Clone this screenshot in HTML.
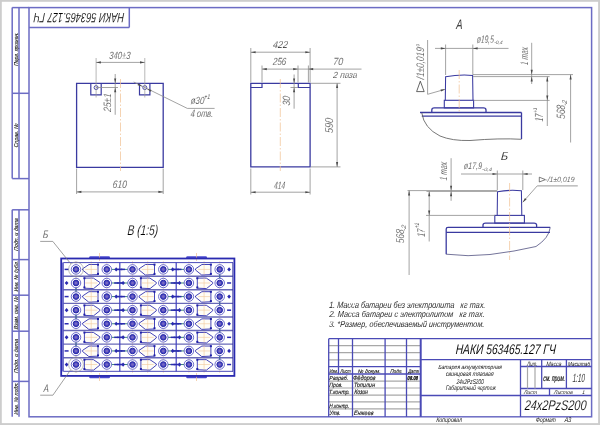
<!DOCTYPE html>
<html><head><meta charset="utf-8"><style>
html,body{margin:0;padding:0;background:#fff;overflow:hidden;}
svg{display:block;}
text{font-family:"Liberation Sans",sans-serif;white-space:pre;}
</style></head><body>
<svg width="600" height="425" viewBox="0 0 600 425">
<rect x="0" y="0" width="600" height="425" fill="#cdcdcd"/>
<rect x="1.8" y="1.8" width="596.3" height="421.3" fill="#ffffff"/>
<rect x="29" y="7.6" width="562.6" height="409.2" stroke="#6c6cc4" stroke-width="1.5" fill="none" />
<line x1="29" y1="27.5" x2="129.3" y2="27.5" stroke="#6c6cc4" stroke-width="1.5" />
<line x1="129.3" y1="7.6" x2="129.3" y2="27.5" stroke="#6c6cc4" stroke-width="1.5" />
<line x1="12.2" y1="7.6" x2="29" y2="7.6" stroke="#6c6cc4" stroke-width="1.5" />
<line x1="12.2" y1="178.6" x2="29" y2="178.6" stroke="#6c6cc4" stroke-width="1.5" />
<line x1="12.2" y1="7.6" x2="12.2" y2="178.6" stroke="#6c6cc4" stroke-width="1.5" />
<line x1="19.0" y1="7.6" x2="19.0" y2="178.6" stroke="#6c6cc4" stroke-width="1.5" />
<line x1="12.2" y1="93.3" x2="29" y2="93.3" stroke="#6c6cc4" stroke-width="1.5" />
<line x1="12.2" y1="209.8" x2="12.2" y2="416.8" stroke="#6c6cc4" stroke-width="1.5" />
<line x1="19.0" y1="209.8" x2="19.0" y2="416.8" stroke="#6c6cc4" stroke-width="1.5" />
<line x1="12.2" y1="209.8" x2="29" y2="209.8" stroke="#6c6cc4" stroke-width="1.5" />
<line x1="12.2" y1="259.6" x2="29" y2="259.6" stroke="#6c6cc4" stroke-width="1.5" />
<line x1="12.2" y1="295.2" x2="29" y2="295.2" stroke="#6c6cc4" stroke-width="1.5" />
<line x1="12.2" y1="331.2" x2="29" y2="331.2" stroke="#6c6cc4" stroke-width="1.5" />
<line x1="12.2" y1="381.4" x2="29" y2="381.4" stroke="#6c6cc4" stroke-width="1.5" />
<path d="M76.6,167.3 L76.6,83.3 L163.2,83.3 L163.2,167.3 Z" stroke="#3a3aa0" stroke-width="1.3" fill="none" />
<path d="M90.8,83.3 L90.8,94.8 L101.2,94.8 L101.2,83.3" stroke="#3a3aa0" stroke-width="1.2" fill="none" />
<circle cx="96.1" cy="87.6" r="2.0" stroke="#3a3aa0" stroke-width="0.9" fill="none"/>
<path d="M139.5,83.3 L139.5,94.8 L149.9,94.8 L149.9,83.3" stroke="#3a3aa0" stroke-width="1.2" fill="none" />
<circle cx="144.8" cy="87.6" r="2.0" stroke="#3a3aa0" stroke-width="0.9" fill="none"/>
<line x1="120.5" y1="79" x2="120.5" y2="171" stroke="#f0c090" stroke-width="0.7" stroke-dasharray="9 2 1.5 2"/>
<line x1="96.1" y1="58" x2="96.1" y2="97.5" stroke="#9a9a9a" stroke-width="0.7" />
<line x1="144.8" y1="58" x2="144.8" y2="97.5" stroke="#9a9a9a" stroke-width="0.7" />
<line x1="96.1" y1="62.4" x2="144.8" y2="62.4" stroke="#8c8c8c" stroke-width="0.8" />
<path d="M96.10,62.40 L100.90,61.35 L100.90,63.45 Z" fill="#4a4a4a"/>
<path d="M144.80,62.40 L140.00,63.45 L140.00,61.35 Z" fill="#4a4a4a"/>
<line x1="96" y1="87.5" x2="118" y2="87.5" stroke="#8c8c8c" stroke-width="0.8" />
<line x1="115.2" y1="74" x2="115.2" y2="114.8" stroke="#8c8c8c" stroke-width="0.8" />
<path d="M115.20,83.30 L114.15,78.50 L116.25,78.50 Z" fill="#4a4a4a"/>
<path d="M115.20,87.50 L116.25,92.30 L114.15,92.30 Z" fill="#4a4a4a"/>
<line x1="133.7" y1="82" x2="187.3" y2="108.4" stroke="#8c8c8c" stroke-width="0.8" />
<path d="M142.40,86.50 L137.63,85.32 L138.56,83.44 Z" fill="#4a4a4a"/>
<path d="M146.80,88.70 L151.57,89.88 L150.64,91.76 Z" fill="#4a4a4a"/>
<line x1="187.3" y1="108.4" x2="214.6" y2="108.4" stroke="#8c8c8c" stroke-width="0.8" />
<line x1="76.6" y1="168.5" x2="76.6" y2="194" stroke="#8c8c8c" stroke-width="0.8" />
<line x1="163.2" y1="168.5" x2="163.2" y2="194" stroke="#8c8c8c" stroke-width="0.8" />
<line x1="76.6" y1="191.9" x2="163.2" y2="191.9" stroke="#8c8c8c" stroke-width="0.8" />
<path d="M76.60,191.90 L81.40,190.85 L81.40,192.95 Z" fill="#4a4a4a"/>
<path d="M163.20,191.90 L158.40,192.95 L158.40,190.85 Z" fill="#4a4a4a"/>
<path d="M250.8,166.9 L250.8,83.3 L310.1,83.3 L310.1,166.9 Z" stroke="#3a3aa0" stroke-width="1.3" fill="none" />
<path d="M250.8,87.5 L262,87.5 L262,83.3" stroke="#3a3aa0" stroke-width="1.2" fill="none" />
<path d="M298.3,83.3 L298.3,87.5 L310.1,87.5" stroke="#3a3aa0" stroke-width="1.2" fill="none" />
<line x1="280.3" y1="79" x2="280.3" y2="171" stroke="#f0c090" stroke-width="0.7" stroke-dasharray="9 2 1.5 2"/>
<line x1="250.8" y1="48" x2="250.8" y2="82.5" stroke="#8c8c8c" stroke-width="0.8" />
<line x1="310.1" y1="48" x2="310.1" y2="82.5" stroke="#8c8c8c" stroke-width="0.8" />
<line x1="250.8" y1="52.2" x2="310.1" y2="52.2" stroke="#8c8c8c" stroke-width="0.8" />
<path d="M250.80,52.20 L255.60,51.15 L255.60,53.25 Z" fill="#4a4a4a"/>
<path d="M310.10,52.20 L305.30,53.25 L305.30,51.15 Z" fill="#4a4a4a"/>
<line x1="262" y1="65.5" x2="262" y2="82.5" stroke="#8c8c8c" stroke-width="0.8" />
<line x1="298.0" y1="65.5" x2="298.0" y2="82.5" stroke="#8c8c8c" stroke-width="0.8" />
<line x1="262" y1="69.1" x2="298" y2="69.1" stroke="#8c8c8c" stroke-width="0.8" />
<path d="M262.00,69.10 L266.80,68.05 L266.80,70.15 Z" fill="#4a4a4a"/>
<path d="M298.00,69.10 L293.20,70.15 L293.20,68.05 Z" fill="#4a4a4a"/>
<line x1="308.4" y1="65.5" x2="308.4" y2="82.5" stroke="#8c8c8c" stroke-width="0.8" />
<line x1="298" y1="69.1" x2="361.5" y2="69.1" stroke="#8c8c8c" stroke-width="0.8" />
<path d="M308.40,69.10 L313.20,68.05 L313.20,70.15 Z" fill="#4a4a4a"/>
<line x1="290.5" y1="87.5" x2="298" y2="87.5" stroke="#8c8c8c" stroke-width="0.8" />
<line x1="294.1" y1="74.5" x2="294.1" y2="108.7" stroke="#8c8c8c" stroke-width="0.8" />
<path d="M294.10,83.30 L293.05,78.50 L295.15,78.50 Z" fill="#4a4a4a"/>
<path d="M294.10,87.50 L295.15,92.30 L293.05,92.30 Z" fill="#4a4a4a"/>
<line x1="311" y1="83.3" x2="340.5" y2="83.3" stroke="#8c8c8c" stroke-width="0.8" />
<line x1="311" y1="166.9" x2="340.5" y2="166.9" stroke="#8c8c8c" stroke-width="0.8" />
<line x1="337.1" y1="83.3" x2="337.1" y2="166.9" stroke="#8c8c8c" stroke-width="0.8" />
<path d="M337.10,83.30 L338.15,88.10 L336.05,88.10 Z" fill="#4a4a4a"/>
<path d="M337.10,166.90 L336.05,162.10 L338.15,162.10 Z" fill="#4a4a4a"/>
<line x1="250.8" y1="168.5" x2="250.8" y2="194.5" stroke="#8c8c8c" stroke-width="0.8" />
<line x1="310.1" y1="168.5" x2="310.1" y2="194.5" stroke="#8c8c8c" stroke-width="0.8" />
<line x1="250.8" y1="192.2" x2="310.1" y2="192.2" stroke="#8c8c8c" stroke-width="0.8" />
<path d="M250.80,192.20 L255.60,191.15 L255.60,193.25 Z" fill="#4a4a4a"/>
<path d="M310.10,192.20 L305.30,193.25 L305.30,191.15 Z" fill="#4a4a4a"/>
<path d="M445.3,100.3 L445.6,76.8 Q459,74.3 472.6,75.4 L473,100.3" stroke="#3a3aa0" stroke-width="1.05" fill="none" />
<rect x="444.3" y="100.3" width="29.3" height="7.6" stroke="#3a3aa0" stroke-width="1.1" fill="none" />
<path d="M431.8,112.4 L431.8,110 Q431.8,107.9 434.3,107.9 L483.5,107.9 Q486,107.9 486,110 L486,112.4" stroke="#3a3aa0" stroke-width="1.3" fill="none" />
<line x1="420" y1="112.5" x2="521.5" y2="112.5" stroke="#3a3aa0" stroke-width="1.3" />
<line x1="421.8" y1="116.2" x2="521.5" y2="116.2" stroke="#3a3aa0" stroke-width="1.3" />
<line x1="521.5" y1="112.5" x2="521.5" y2="139" stroke="#3a3aa0" stroke-width="1.3" />
<path d="M421.8,113 Q424,128 440,136 Q452,141 470,140.5 Q500,138 521.5,139.3" stroke="#555" stroke-width="0.8" fill="none" />
<line x1="459.2" y1="70" x2="459.2" y2="112" stroke="#f0c090" stroke-width="0.7" stroke-dasharray="9 2 1.5 2"/>
<line x1="445.6" y1="44.5" x2="445.6" y2="75" stroke="#8c8c8c" stroke-width="0.8" />
<line x1="472.8" y1="44.5" x2="472.8" y2="75" stroke="#8c8c8c" stroke-width="0.8" />
<line x1="435" y1="48.4" x2="508.5" y2="48.4" stroke="#8c8c8c" stroke-width="0.8" />
<path d="M445.60,48.40 L440.80,49.45 L440.80,47.35 Z" fill="#4a4a4a"/>
<path d="M472.80,48.40 L477.60,47.35 L477.60,49.45 Z" fill="#4a4a4a"/>
<line x1="427.6" y1="40" x2="427.6" y2="94.3" stroke="#8c8c8c" stroke-width="0.8" />
<line x1="427.6" y1="94.3" x2="444.8" y2="89.4" stroke="#8c8c8c" stroke-width="0.8" />
<path d="M445.40,89.20 L441.06,91.51 L440.49,89.48 Z" fill="#4a4a4a"/>
<path d="M420.3,81.2 L424.2,91.6 L416.6,91.6 Z" fill="none" stroke="#333" stroke-width="0.75"/>
<line x1="473" y1="74.6" x2="573" y2="74.6" stroke="#8c8c8c" stroke-width="0.8" />
<line x1="473" y1="76.6" x2="549.6" y2="76.6" stroke="#8c8c8c" stroke-width="0.8" />
<line x1="473.6" y1="100.4" x2="549.6" y2="100.4" stroke="#8c8c8c" stroke-width="0.8" />
<line x1="531.7" y1="42.8" x2="531.7" y2="84" stroke="#8c8c8c" stroke-width="0.8" />
<path d="M531.70,74.60 L530.65,69.80 L532.75,69.80 Z" fill="#4a4a4a"/>
<path d="M531.70,76.60 L532.75,81.40 L530.65,81.40 Z" fill="#4a4a4a"/>
<line x1="547.3" y1="76.6" x2="547.3" y2="126" stroke="#8c8c8c" stroke-width="0.8" />
<path d="M547.30,76.60 L548.35,81.40 L546.25,81.40 Z" fill="#4a4a4a"/>
<path d="M547.30,100.40 L546.25,95.60 L548.35,95.60 Z" fill="#4a4a4a"/>
<line x1="570.6" y1="74.6" x2="570.6" y2="142.5" stroke="#8c8c8c" stroke-width="0.8" />
<path d="M570.60,74.60 L571.65,79.40 L569.55,79.40 Z" fill="#4a4a4a"/>
<path d="M497.2,215.4 L497.5,191.8 Q509,189.5 521.4,190.8 L521.8,215.4" stroke="#3a3aa0" stroke-width="1.05" fill="none" />
<rect x="494.8" y="215.4" width="29.6" height="7.7" stroke="#3a3aa0" stroke-width="1.1" fill="none" />
<path d="M483,227.3 L483,225 Q483,223.1 485.5,223.1 L534,223.1 Q536.6,223.1 536.6,225 L536.6,227.3" stroke="#3a3aa0" stroke-width="1.3" fill="none" />
<path d="M446.2,254.2 L446.2,229 Q446.2,227.3 448,227.3 L550.2,227.3" stroke="#3a3aa0" stroke-width="1.3" fill="none" />
<path d="M550.2,227.5 Q549,238 536,246.5 Q515,251.5 490,254.5 Q468,257 446.2,254.2" stroke="#505080" stroke-width="0.8" fill="none" />
<line x1="446.2" y1="232.4" x2="550" y2="232.4" stroke="#3a3aa0" stroke-width="1.3" />
<line x1="509.6" y1="183" x2="509.6" y2="260" stroke="#f0c090" stroke-width="0.7" stroke-dasharray="9 2 1.5 2"/>
<line x1="497.3" y1="170.5" x2="497.3" y2="190" stroke="#8c8c8c" stroke-width="0.8" />
<line x1="522.8" y1="170.5" x2="522.8" y2="190" stroke="#8c8c8c" stroke-width="0.8" />
<line x1="461" y1="174" x2="532" y2="174" stroke="#8c8c8c" stroke-width="0.8" />
<path d="M497.30,174.00 L492.50,175.05 L492.50,172.95 Z" fill="#4a4a4a"/>
<path d="M522.80,174.00 L527.60,172.95 L527.60,175.05 Z" fill="#4a4a4a"/>
<line x1="522.8" y1="202.2" x2="537.2" y2="185.9" stroke="#8c8c8c" stroke-width="0.8" />
<line x1="537.2" y1="185.9" x2="577.8" y2="185.9" stroke="#9a9a9a" stroke-width="1.0" />
<path d="M522.60,202.40 L524.98,198.10 L526.56,199.49 Z" fill="#4a4a4a"/>
<path d="M539.3,177.2 L545.4,179.6 L539.3,182.0 Z" fill="none" stroke="#444" stroke-width="0.7"/>
<line x1="407.5" y1="190.6" x2="497.3" y2="190.6" stroke="#8c8c8c" stroke-width="0.8" />
<line x1="426.5" y1="191.4" x2="497.3" y2="191.4" stroke="#8c8c8c" stroke-width="0.8" />
<line x1="426" y1="215.4" x2="494.8" y2="215.4" stroke="#8c8c8c" stroke-width="0.8" />
<line x1="451.1" y1="158.2" x2="451.1" y2="200.8" stroke="#8c8c8c" stroke-width="0.8" />
<path d="M451.10,190.60 L450.05,185.80 L452.15,185.80 Z" fill="#4a4a4a"/>
<path d="M451.10,191.40 L452.15,196.20 L450.05,196.20 Z" fill="#4a4a4a"/>
<line x1="429.2" y1="191.4" x2="429.2" y2="241.5" stroke="#8c8c8c" stroke-width="0.8" />
<path d="M429.20,191.40 L430.25,196.20 L428.15,196.20 Z" fill="#4a4a4a"/>
<path d="M429.20,215.40 L428.15,210.60 L430.25,210.60 Z" fill="#4a4a4a"/>
<line x1="409.1" y1="190.6" x2="409.1" y2="275" stroke="#8c8c8c" stroke-width="0.8" />
<path d="M409.10,190.60 L410.15,195.40 L408.05,195.40 Z" fill="#4a4a4a"/>
<rect x="89.2" y="256.2" width="20.8" height="2.6" rx="1.2" fill="#4a4ad0"/>
<rect x="89.2" y="375.6" width="20.8" height="2.6" rx="1.2" fill="#4a4ad0"/>
<line x1="99.5" y1="253" x2="99.5" y2="261" stroke="#f0c090" stroke-width="0.7" stroke-dasharray="9 2 1.5 2"/>
<line x1="99.5" y1="373" x2="99.5" y2="381" stroke="#f0c090" stroke-width="0.7" stroke-dasharray="9 2 1.5 2"/>
<rect x="186.2" y="256.2" width="20.8" height="2.6" rx="1.2" fill="#4a4ad0"/>
<rect x="186.2" y="375.6" width="20.8" height="2.6" rx="1.2" fill="#4a4ad0"/>
<line x1="196.5" y1="253" x2="196.5" y2="261" stroke="#f0c090" stroke-width="0.7" stroke-dasharray="9 2 1.5 2"/>
<line x1="196.5" y1="373" x2="196.5" y2="381" stroke="#f0c090" stroke-width="0.7" stroke-dasharray="9 2 1.5 2"/>
<line x1="76.0" y1="261" x2="76.0" y2="373" stroke="#f0c8a0" stroke-width="0.5"/>
<line x1="91.2" y1="261" x2="91.2" y2="373" stroke="#f0c8a0" stroke-width="0.5"/>
<line x1="106.8" y1="261" x2="106.8" y2="373" stroke="#f0c8a0" stroke-width="0.5"/>
<line x1="132.5" y1="261" x2="132.5" y2="373" stroke="#f0c8a0" stroke-width="0.5"/>
<line x1="147.7" y1="261" x2="147.7" y2="373" stroke="#f0c8a0" stroke-width="0.5"/>
<line x1="163.3" y1="261" x2="163.3" y2="373" stroke="#f0c8a0" stroke-width="0.5"/>
<line x1="188.9" y1="261" x2="188.9" y2="373" stroke="#f0c8a0" stroke-width="0.5"/>
<line x1="204.1" y1="261" x2="204.1" y2="373" stroke="#f0c8a0" stroke-width="0.5"/>
<line x1="219.70000000000002" y1="261" x2="219.70000000000002" y2="373" stroke="#f0c8a0" stroke-width="0.5"/>
<line x1="63.4" y1="262.6" x2="233.0" y2="262.6" stroke="#4a4ab8" stroke-width="1.0" />
<line x1="63.4" y1="276.19" x2="233.0" y2="276.19" stroke="#6868b8" stroke-width="1.4" />
<line x1="63.4" y1="289.78000000000003" x2="233.0" y2="289.78000000000003" stroke="#6868b8" stroke-width="1.4" />
<line x1="63.4" y1="303.37" x2="233.0" y2="303.37" stroke="#6868b8" stroke-width="1.4" />
<line x1="63.4" y1="316.96000000000004" x2="233.0" y2="316.96000000000004" stroke="#6868b8" stroke-width="1.4" />
<line x1="63.4" y1="330.55" x2="233.0" y2="330.55" stroke="#6868b8" stroke-width="1.4" />
<line x1="63.4" y1="344.14" x2="233.0" y2="344.14" stroke="#6868b8" stroke-width="1.4" />
<line x1="63.4" y1="357.73" x2="233.0" y2="357.73" stroke="#6868b8" stroke-width="1.4" />
<line x1="63.4" y1="371.32000000000005" x2="233.0" y2="371.32000000000005" stroke="#4a4ab8" stroke-width="1.0" />
<rect x="61.2" y="258.5" width="173.2" height="117.39999999999998" stroke="#2a2ab0" stroke-width="1.8" fill="none" />
<line x1="63.0" y1="262.5" x2="63.0" y2="371.6" stroke="#3a3ab8" stroke-width="1.4" />
<line x1="232.8" y1="262.5" x2="232.8" y2="371.6" stroke="#3a3aa0" stroke-width="0.9" />
<line x1="119.8" y1="262.6" x2="119.8" y2="371.4" stroke="#4040c0" stroke-width="1.2" />
<line x1="176.2" y1="262.6" x2="176.2" y2="371.4" stroke="#4040c0" stroke-width="1.2" />
<line x1="111.39999999999999" y1="269.4" x2="127.9" y2="269.4" stroke="#3f8a78" stroke-width="1.0"/>
<line x1="117.3" y1="269.4" x2="122.3" y2="269.4" stroke="#2a2ab0" stroke-width="1.6"/>
<circle cx="76.0" cy="269.4" r="4.75" stroke="#4848c0" stroke-width="0.8" fill="#ffffff"/>
<circle cx="76.0" cy="269.4" r="2.8" stroke="#2424a8" stroke-width="1.0" fill="#4a4ac0"/>
<circle cx="76.0" cy="269.4" r="1.3" stroke="none" stroke-width="0" fill="#7a68c0"/>
<circle cx="106.8" cy="269.4" r="4.75" stroke="#4848c0" stroke-width="0.8" fill="#ffffff"/>
<circle cx="106.8" cy="269.4" r="2.8" stroke="#2424a8" stroke-width="1.0" fill="#4a4ac0"/>
<circle cx="106.8" cy="269.4" r="1.3" stroke="none" stroke-width="0" fill="#7a68c0"/>
<path d="M82.60,268.80 L82.60,270.00 L88.80,275.00 L98.00,274.60 L98.00,264.50 L89.00,264.50 Z" stroke="#3030b0" stroke-width="0.9" fill="#fffdf6" stroke-linejoin="round"/>
<rect x="97.0" y="263.59999999999997" width="2" height="2" fill="#2020a8"/>
<rect x="97.0" y="272.9" width="2" height="2" fill="#2020a8"/>
<line x1="85.2" y1="269.4" x2="97.2" y2="269.4" stroke="#f2c898" stroke-width="0.6"/>
<line x1="91.2" y1="264.4" x2="91.2" y2="274.4" stroke="#f2c898" stroke-width="0.6"/>
<line x1="64.6" y1="269.4" x2="68.6" y2="269.4" stroke="#2a2ab0" stroke-width="1.5"/>
<path d="M114.3,269.4 L116.2,267.29999999999995 L118.10000000000001,269.4 L116.2,271.5 Z" fill="#2a2ab0"/>
<line x1="167.9" y1="269.4" x2="184.3" y2="269.4" stroke="#3f8a78" stroke-width="1.0"/>
<line x1="173.7" y1="269.4" x2="178.7" y2="269.4" stroke="#2a2ab0" stroke-width="1.6"/>
<circle cx="132.5" cy="269.4" r="4.75" stroke="#4848c0" stroke-width="0.8" fill="#ffffff"/>
<circle cx="132.5" cy="269.4" r="2.8" stroke="#2424a8" stroke-width="1.0" fill="#4a4ac0"/>
<circle cx="132.5" cy="269.4" r="1.3" stroke="none" stroke-width="0" fill="#7a68c0"/>
<circle cx="163.3" cy="269.4" r="4.75" stroke="#4848c0" stroke-width="0.8" fill="#ffffff"/>
<circle cx="163.3" cy="269.4" r="2.8" stroke="#2424a8" stroke-width="1.0" fill="#4a4ac0"/>
<circle cx="163.3" cy="269.4" r="1.3" stroke="none" stroke-width="0" fill="#7a68c0"/>
<path d="M139.10,268.80 L139.10,270.00 L145.30,275.00 L154.50,274.60 L154.50,264.50 L145.50,264.50 Z" stroke="#3030b0" stroke-width="0.9" fill="#fffdf6" stroke-linejoin="round"/>
<rect x="153.5" y="263.59999999999997" width="2" height="2" fill="#2020a8"/>
<rect x="153.5" y="272.9" width="2" height="2" fill="#2020a8"/>
<line x1="141.7" y1="269.4" x2="153.7" y2="269.4" stroke="#f2c898" stroke-width="0.6"/>
<line x1="147.7" y1="264.4" x2="147.7" y2="274.4" stroke="#f2c898" stroke-width="0.6"/>
<line x1="121.1" y1="269.4" x2="125.1" y2="269.4" stroke="#2a2ab0" stroke-width="1.5"/>
<path d="M170.8,269.4 L172.70000000000002,267.29999999999995 L174.60000000000002,269.4 L172.70000000000002,271.5 Z" fill="#2a2ab0"/>
<circle cx="188.9" cy="269.4" r="4.75" stroke="#4848c0" stroke-width="0.8" fill="#ffffff"/>
<circle cx="188.9" cy="269.4" r="2.8" stroke="#2424a8" stroke-width="1.0" fill="#4a4ac0"/>
<circle cx="188.9" cy="269.4" r="1.3" stroke="none" stroke-width="0" fill="#7a68c0"/>
<circle cx="219.70000000000002" cy="269.4" r="4.75" stroke="#4848c0" stroke-width="0.8" fill="#ffffff"/>
<circle cx="219.70000000000002" cy="269.4" r="2.8" stroke="#2424a8" stroke-width="1.0" fill="#4a4ac0"/>
<circle cx="219.70000000000002" cy="269.4" r="1.3" stroke="none" stroke-width="0" fill="#7a68c0"/>
<path d="M195.50,268.80 L195.50,270.00 L201.70,275.00 L210.90,274.60 L210.90,264.50 L201.90,264.50 Z" stroke="#3030b0" stroke-width="0.9" fill="#fffdf6" stroke-linejoin="round"/>
<rect x="209.9" y="263.59999999999997" width="2" height="2" fill="#2020a8"/>
<rect x="209.9" y="272.9" width="2" height="2" fill="#2020a8"/>
<line x1="198.1" y1="269.4" x2="210.1" y2="269.4" stroke="#f2c898" stroke-width="0.6"/>
<line x1="204.1" y1="264.4" x2="204.1" y2="274.4" stroke="#f2c898" stroke-width="0.6"/>
<line x1="177.5" y1="269.4" x2="181.5" y2="269.4" stroke="#2a2ab0" stroke-width="1.5"/>
<path d="M227.20000000000002,269.4 L229.10000000000002,267.29999999999995 L231.00000000000003,269.4 L229.10000000000002,271.5 Z" fill="#2a2ab0"/>
<line x1="111.39999999999999" y1="282.98999999999995" x2="127.9" y2="282.98999999999995" stroke="#3f8a78" stroke-width="1.0"/>
<line x1="117.3" y1="282.98999999999995" x2="122.3" y2="282.98999999999995" stroke="#2a2ab0" stroke-width="1.6"/>
<circle cx="76.0" cy="282.98999999999995" r="4.75" stroke="#4848c0" stroke-width="0.8" fill="#ffffff"/>
<circle cx="76.0" cy="282.98999999999995" r="2.8" stroke="#2424a8" stroke-width="1.0" fill="#4a4ac0"/>
<circle cx="76.0" cy="282.98999999999995" r="1.3" stroke="none" stroke-width="0" fill="#7a68c0"/>
<circle cx="106.8" cy="282.98999999999995" r="4.75" stroke="#4848c0" stroke-width="0.8" fill="#ffffff"/>
<circle cx="106.8" cy="282.98999999999995" r="2.8" stroke="#2424a8" stroke-width="1.0" fill="#4a4ac0"/>
<circle cx="106.8" cy="282.98999999999995" r="1.3" stroke="none" stroke-width="0" fill="#7a68c0"/>
<path d="M99.80,282.39 L99.80,283.59 L93.60,288.59 L84.40,288.19 L84.40,278.09 L93.40,278.09 Z" stroke="#3030b0" stroke-width="0.9" fill="#fffdf6" stroke-linejoin="round"/>
<rect x="83.4" y="277.18999999999994" width="2" height="2" fill="#2020a8"/>
<rect x="83.4" y="286.48999999999995" width="2" height="2" fill="#2020a8"/>
<line x1="85.2" y1="282.98999999999995" x2="97.2" y2="282.98999999999995" stroke="#f2c898" stroke-width="0.6"/>
<line x1="91.2" y1="277.98999999999995" x2="91.2" y2="287.98999999999995" stroke="#f2c898" stroke-width="0.6"/>
<path d="M64.69999999999999,282.98999999999995 L66.6,280.88999999999993 L68.5,282.98999999999995 L66.6,285.09 Z" fill="#2a2ab0"/>
<line x1="114.2" y1="282.98999999999995" x2="118.2" y2="282.98999999999995" stroke="#2a2ab0" stroke-width="1.5"/>
<line x1="167.9" y1="282.98999999999995" x2="184.3" y2="282.98999999999995" stroke="#3f8a78" stroke-width="1.0"/>
<line x1="173.7" y1="282.98999999999995" x2="178.7" y2="282.98999999999995" stroke="#2a2ab0" stroke-width="1.6"/>
<circle cx="132.5" cy="282.98999999999995" r="4.75" stroke="#4848c0" stroke-width="0.8" fill="#ffffff"/>
<circle cx="132.5" cy="282.98999999999995" r="2.8" stroke="#2424a8" stroke-width="1.0" fill="#4a4ac0"/>
<circle cx="132.5" cy="282.98999999999995" r="1.3" stroke="none" stroke-width="0" fill="#7a68c0"/>
<circle cx="163.3" cy="282.98999999999995" r="4.75" stroke="#4848c0" stroke-width="0.8" fill="#ffffff"/>
<circle cx="163.3" cy="282.98999999999995" r="2.8" stroke="#2424a8" stroke-width="1.0" fill="#4a4ac0"/>
<circle cx="163.3" cy="282.98999999999995" r="1.3" stroke="none" stroke-width="0" fill="#7a68c0"/>
<path d="M156.30,282.39 L156.30,283.59 L150.10,288.59 L140.90,288.19 L140.90,278.09 L149.90,278.09 Z" stroke="#3030b0" stroke-width="0.9" fill="#fffdf6" stroke-linejoin="round"/>
<rect x="139.89999999999998" y="277.18999999999994" width="2" height="2" fill="#2020a8"/>
<rect x="139.89999999999998" y="286.48999999999995" width="2" height="2" fill="#2020a8"/>
<line x1="141.7" y1="282.98999999999995" x2="153.7" y2="282.98999999999995" stroke="#f2c898" stroke-width="0.6"/>
<line x1="147.7" y1="277.98999999999995" x2="147.7" y2="287.98999999999995" stroke="#f2c898" stroke-width="0.6"/>
<path d="M121.19999999999999,282.98999999999995 L123.1,280.88999999999993 L125.0,282.98999999999995 L123.1,285.09 Z" fill="#2a2ab0"/>
<line x1="170.70000000000002" y1="282.98999999999995" x2="174.70000000000002" y2="282.98999999999995" stroke="#2a2ab0" stroke-width="1.5"/>
<circle cx="188.9" cy="282.98999999999995" r="4.75" stroke="#4848c0" stroke-width="0.8" fill="#ffffff"/>
<circle cx="188.9" cy="282.98999999999995" r="2.8" stroke="#2424a8" stroke-width="1.0" fill="#4a4ac0"/>
<circle cx="188.9" cy="282.98999999999995" r="1.3" stroke="none" stroke-width="0" fill="#7a68c0"/>
<circle cx="219.70000000000002" cy="282.98999999999995" r="4.75" stroke="#4848c0" stroke-width="0.8" fill="#ffffff"/>
<circle cx="219.70000000000002" cy="282.98999999999995" r="2.8" stroke="#2424a8" stroke-width="1.0" fill="#4a4ac0"/>
<circle cx="219.70000000000002" cy="282.98999999999995" r="1.3" stroke="none" stroke-width="0" fill="#7a68c0"/>
<path d="M212.70,282.39 L212.70,283.59 L206.50,288.59 L197.30,288.19 L197.30,278.09 L206.30,278.09 Z" stroke="#3030b0" stroke-width="0.9" fill="#fffdf6" stroke-linejoin="round"/>
<rect x="196.29999999999998" y="277.18999999999994" width="2" height="2" fill="#2020a8"/>
<rect x="196.29999999999998" y="286.48999999999995" width="2" height="2" fill="#2020a8"/>
<line x1="198.1" y1="282.98999999999995" x2="210.1" y2="282.98999999999995" stroke="#f2c898" stroke-width="0.6"/>
<line x1="204.1" y1="277.98999999999995" x2="204.1" y2="287.98999999999995" stroke="#f2c898" stroke-width="0.6"/>
<path d="M177.6,282.98999999999995 L179.5,280.88999999999993 L181.4,282.98999999999995 L179.5,285.09 Z" fill="#2a2ab0"/>
<line x1="227.10000000000002" y1="282.98999999999995" x2="231.10000000000002" y2="282.98999999999995" stroke="#2a2ab0" stroke-width="1.5"/>
<line x1="111.39999999999999" y1="296.58" x2="127.9" y2="296.58" stroke="#3f8a78" stroke-width="1.0"/>
<line x1="117.3" y1="296.58" x2="122.3" y2="296.58" stroke="#2a2ab0" stroke-width="1.6"/>
<circle cx="76.0" cy="296.58" r="4.75" stroke="#4848c0" stroke-width="0.8" fill="#ffffff"/>
<circle cx="76.0" cy="296.58" r="2.8" stroke="#2424a8" stroke-width="1.0" fill="#4a4ac0"/>
<circle cx="76.0" cy="296.58" r="1.3" stroke="none" stroke-width="0" fill="#7a68c0"/>
<circle cx="106.8" cy="296.58" r="4.75" stroke="#4848c0" stroke-width="0.8" fill="#ffffff"/>
<circle cx="106.8" cy="296.58" r="2.8" stroke="#2424a8" stroke-width="1.0" fill="#4a4ac0"/>
<circle cx="106.8" cy="296.58" r="1.3" stroke="none" stroke-width="0" fill="#7a68c0"/>
<path d="M82.60,295.98 L82.60,297.18 L88.80,302.18 L98.00,301.78 L98.00,291.68 L89.00,291.68 Z" stroke="#3030b0" stroke-width="0.9" fill="#fffdf6" stroke-linejoin="round"/>
<rect x="97.0" y="290.78" width="2" height="2" fill="#2020a8"/>
<rect x="97.0" y="300.08" width="2" height="2" fill="#2020a8"/>
<line x1="85.2" y1="296.58" x2="97.2" y2="296.58" stroke="#f2c898" stroke-width="0.6"/>
<line x1="91.2" y1="291.58" x2="91.2" y2="301.58" stroke="#f2c898" stroke-width="0.6"/>
<line x1="64.6" y1="296.58" x2="68.6" y2="296.58" stroke="#2a2ab0" stroke-width="1.5"/>
<path d="M114.3,296.58 L116.2,294.47999999999996 L118.10000000000001,296.58 L116.2,298.68 Z" fill="#2a2ab0"/>
<line x1="167.9" y1="296.58" x2="184.3" y2="296.58" stroke="#3f8a78" stroke-width="1.0"/>
<line x1="173.7" y1="296.58" x2="178.7" y2="296.58" stroke="#2a2ab0" stroke-width="1.6"/>
<circle cx="132.5" cy="296.58" r="4.75" stroke="#4848c0" stroke-width="0.8" fill="#ffffff"/>
<circle cx="132.5" cy="296.58" r="2.8" stroke="#2424a8" stroke-width="1.0" fill="#4a4ac0"/>
<circle cx="132.5" cy="296.58" r="1.3" stroke="none" stroke-width="0" fill="#7a68c0"/>
<circle cx="163.3" cy="296.58" r="4.75" stroke="#4848c0" stroke-width="0.8" fill="#ffffff"/>
<circle cx="163.3" cy="296.58" r="2.8" stroke="#2424a8" stroke-width="1.0" fill="#4a4ac0"/>
<circle cx="163.3" cy="296.58" r="1.3" stroke="none" stroke-width="0" fill="#7a68c0"/>
<path d="M139.10,295.98 L139.10,297.18 L145.30,302.18 L154.50,301.78 L154.50,291.68 L145.50,291.68 Z" stroke="#3030b0" stroke-width="0.9" fill="#fffdf6" stroke-linejoin="round"/>
<rect x="153.5" y="290.78" width="2" height="2" fill="#2020a8"/>
<rect x="153.5" y="300.08" width="2" height="2" fill="#2020a8"/>
<line x1="141.7" y1="296.58" x2="153.7" y2="296.58" stroke="#f2c898" stroke-width="0.6"/>
<line x1="147.7" y1="291.58" x2="147.7" y2="301.58" stroke="#f2c898" stroke-width="0.6"/>
<line x1="121.1" y1="296.58" x2="125.1" y2="296.58" stroke="#2a2ab0" stroke-width="1.5"/>
<path d="M170.8,296.58 L172.70000000000002,294.47999999999996 L174.60000000000002,296.58 L172.70000000000002,298.68 Z" fill="#2a2ab0"/>
<circle cx="188.9" cy="296.58" r="4.75" stroke="#4848c0" stroke-width="0.8" fill="#ffffff"/>
<circle cx="188.9" cy="296.58" r="2.8" stroke="#2424a8" stroke-width="1.0" fill="#4a4ac0"/>
<circle cx="188.9" cy="296.58" r="1.3" stroke="none" stroke-width="0" fill="#7a68c0"/>
<circle cx="219.70000000000002" cy="296.58" r="4.75" stroke="#4848c0" stroke-width="0.8" fill="#ffffff"/>
<circle cx="219.70000000000002" cy="296.58" r="2.8" stroke="#2424a8" stroke-width="1.0" fill="#4a4ac0"/>
<circle cx="219.70000000000002" cy="296.58" r="1.3" stroke="none" stroke-width="0" fill="#7a68c0"/>
<path d="M195.50,295.98 L195.50,297.18 L201.70,302.18 L210.90,301.78 L210.90,291.68 L201.90,291.68 Z" stroke="#3030b0" stroke-width="0.9" fill="#fffdf6" stroke-linejoin="round"/>
<rect x="209.9" y="290.78" width="2" height="2" fill="#2020a8"/>
<rect x="209.9" y="300.08" width="2" height="2" fill="#2020a8"/>
<line x1="198.1" y1="296.58" x2="210.1" y2="296.58" stroke="#f2c898" stroke-width="0.6"/>
<line x1="204.1" y1="291.58" x2="204.1" y2="301.58" stroke="#f2c898" stroke-width="0.6"/>
<line x1="177.5" y1="296.58" x2="181.5" y2="296.58" stroke="#2a2ab0" stroke-width="1.5"/>
<path d="M227.20000000000002,296.58 L229.10000000000002,294.47999999999996 L231.00000000000003,296.58 L229.10000000000002,298.68 Z" fill="#2a2ab0"/>
<line x1="111.39999999999999" y1="310.16999999999996" x2="127.9" y2="310.16999999999996" stroke="#3f8a78" stroke-width="1.0"/>
<line x1="117.3" y1="310.16999999999996" x2="122.3" y2="310.16999999999996" stroke="#2a2ab0" stroke-width="1.6"/>
<circle cx="76.0" cy="310.16999999999996" r="4.75" stroke="#4848c0" stroke-width="0.8" fill="#ffffff"/>
<circle cx="76.0" cy="310.16999999999996" r="2.8" stroke="#2424a8" stroke-width="1.0" fill="#4a4ac0"/>
<circle cx="76.0" cy="310.16999999999996" r="1.3" stroke="none" stroke-width="0" fill="#7a68c0"/>
<circle cx="106.8" cy="310.16999999999996" r="4.75" stroke="#4848c0" stroke-width="0.8" fill="#ffffff"/>
<circle cx="106.8" cy="310.16999999999996" r="2.8" stroke="#2424a8" stroke-width="1.0" fill="#4a4ac0"/>
<circle cx="106.8" cy="310.16999999999996" r="1.3" stroke="none" stroke-width="0" fill="#7a68c0"/>
<path d="M99.80,309.57 L99.80,310.77 L93.60,315.77 L84.40,315.37 L84.40,305.27 L93.40,305.27 Z" stroke="#3030b0" stroke-width="0.9" fill="#fffdf6" stroke-linejoin="round"/>
<rect x="83.4" y="304.36999999999995" width="2" height="2" fill="#2020a8"/>
<rect x="83.4" y="313.66999999999996" width="2" height="2" fill="#2020a8"/>
<line x1="85.2" y1="310.16999999999996" x2="97.2" y2="310.16999999999996" stroke="#f2c898" stroke-width="0.6"/>
<line x1="91.2" y1="305.16999999999996" x2="91.2" y2="315.16999999999996" stroke="#f2c898" stroke-width="0.6"/>
<path d="M64.69999999999999,310.16999999999996 L66.6,308.06999999999994 L68.5,310.16999999999996 L66.6,312.27 Z" fill="#2a2ab0"/>
<line x1="114.2" y1="310.16999999999996" x2="118.2" y2="310.16999999999996" stroke="#2a2ab0" stroke-width="1.5"/>
<line x1="167.9" y1="310.16999999999996" x2="184.3" y2="310.16999999999996" stroke="#3f8a78" stroke-width="1.0"/>
<line x1="173.7" y1="310.16999999999996" x2="178.7" y2="310.16999999999996" stroke="#2a2ab0" stroke-width="1.6"/>
<circle cx="132.5" cy="310.16999999999996" r="4.75" stroke="#4848c0" stroke-width="0.8" fill="#ffffff"/>
<circle cx="132.5" cy="310.16999999999996" r="2.8" stroke="#2424a8" stroke-width="1.0" fill="#4a4ac0"/>
<circle cx="132.5" cy="310.16999999999996" r="1.3" stroke="none" stroke-width="0" fill="#7a68c0"/>
<circle cx="163.3" cy="310.16999999999996" r="4.75" stroke="#4848c0" stroke-width="0.8" fill="#ffffff"/>
<circle cx="163.3" cy="310.16999999999996" r="2.8" stroke="#2424a8" stroke-width="1.0" fill="#4a4ac0"/>
<circle cx="163.3" cy="310.16999999999996" r="1.3" stroke="none" stroke-width="0" fill="#7a68c0"/>
<path d="M156.30,309.57 L156.30,310.77 L150.10,315.77 L140.90,315.37 L140.90,305.27 L149.90,305.27 Z" stroke="#3030b0" stroke-width="0.9" fill="#fffdf6" stroke-linejoin="round"/>
<rect x="139.89999999999998" y="304.36999999999995" width="2" height="2" fill="#2020a8"/>
<rect x="139.89999999999998" y="313.66999999999996" width="2" height="2" fill="#2020a8"/>
<line x1="141.7" y1="310.16999999999996" x2="153.7" y2="310.16999999999996" stroke="#f2c898" stroke-width="0.6"/>
<line x1="147.7" y1="305.16999999999996" x2="147.7" y2="315.16999999999996" stroke="#f2c898" stroke-width="0.6"/>
<path d="M121.19999999999999,310.16999999999996 L123.1,308.06999999999994 L125.0,310.16999999999996 L123.1,312.27 Z" fill="#2a2ab0"/>
<line x1="170.70000000000002" y1="310.16999999999996" x2="174.70000000000002" y2="310.16999999999996" stroke="#2a2ab0" stroke-width="1.5"/>
<circle cx="188.9" cy="310.16999999999996" r="4.75" stroke="#4848c0" stroke-width="0.8" fill="#ffffff"/>
<circle cx="188.9" cy="310.16999999999996" r="2.8" stroke="#2424a8" stroke-width="1.0" fill="#4a4ac0"/>
<circle cx="188.9" cy="310.16999999999996" r="1.3" stroke="none" stroke-width="0" fill="#7a68c0"/>
<circle cx="219.70000000000002" cy="310.16999999999996" r="4.75" stroke="#4848c0" stroke-width="0.8" fill="#ffffff"/>
<circle cx="219.70000000000002" cy="310.16999999999996" r="2.8" stroke="#2424a8" stroke-width="1.0" fill="#4a4ac0"/>
<circle cx="219.70000000000002" cy="310.16999999999996" r="1.3" stroke="none" stroke-width="0" fill="#7a68c0"/>
<path d="M212.70,309.57 L212.70,310.77 L206.50,315.77 L197.30,315.37 L197.30,305.27 L206.30,305.27 Z" stroke="#3030b0" stroke-width="0.9" fill="#fffdf6" stroke-linejoin="round"/>
<rect x="196.29999999999998" y="304.36999999999995" width="2" height="2" fill="#2020a8"/>
<rect x="196.29999999999998" y="313.66999999999996" width="2" height="2" fill="#2020a8"/>
<line x1="198.1" y1="310.16999999999996" x2="210.1" y2="310.16999999999996" stroke="#f2c898" stroke-width="0.6"/>
<line x1="204.1" y1="305.16999999999996" x2="204.1" y2="315.16999999999996" stroke="#f2c898" stroke-width="0.6"/>
<path d="M177.6,310.16999999999996 L179.5,308.06999999999994 L181.4,310.16999999999996 L179.5,312.27 Z" fill="#2a2ab0"/>
<line x1="227.10000000000002" y1="310.16999999999996" x2="231.10000000000002" y2="310.16999999999996" stroke="#2a2ab0" stroke-width="1.5"/>
<line x1="111.39999999999999" y1="323.76" x2="127.9" y2="323.76" stroke="#3f8a78" stroke-width="1.0"/>
<line x1="117.3" y1="323.76" x2="122.3" y2="323.76" stroke="#2a2ab0" stroke-width="1.6"/>
<circle cx="76.0" cy="323.76" r="4.75" stroke="#4848c0" stroke-width="0.8" fill="#ffffff"/>
<circle cx="76.0" cy="323.76" r="2.8" stroke="#2424a8" stroke-width="1.0" fill="#4a4ac0"/>
<circle cx="76.0" cy="323.76" r="1.3" stroke="none" stroke-width="0" fill="#7a68c0"/>
<circle cx="106.8" cy="323.76" r="4.75" stroke="#4848c0" stroke-width="0.8" fill="#ffffff"/>
<circle cx="106.8" cy="323.76" r="2.8" stroke="#2424a8" stroke-width="1.0" fill="#4a4ac0"/>
<circle cx="106.8" cy="323.76" r="1.3" stroke="none" stroke-width="0" fill="#7a68c0"/>
<path d="M82.60,323.16 L82.60,324.36 L88.80,329.36 L98.00,328.96 L98.00,318.86 L89.00,318.86 Z" stroke="#3030b0" stroke-width="0.9" fill="#fffdf6" stroke-linejoin="round"/>
<rect x="97.0" y="317.96" width="2" height="2" fill="#2020a8"/>
<rect x="97.0" y="327.26" width="2" height="2" fill="#2020a8"/>
<line x1="85.2" y1="323.76" x2="97.2" y2="323.76" stroke="#f2c898" stroke-width="0.6"/>
<line x1="91.2" y1="318.76" x2="91.2" y2="328.76" stroke="#f2c898" stroke-width="0.6"/>
<line x1="64.6" y1="323.76" x2="68.6" y2="323.76" stroke="#2a2ab0" stroke-width="1.5"/>
<path d="M114.3,323.76 L116.2,321.65999999999997 L118.10000000000001,323.76 L116.2,325.86 Z" fill="#2a2ab0"/>
<line x1="167.9" y1="323.76" x2="184.3" y2="323.76" stroke="#3f8a78" stroke-width="1.0"/>
<line x1="173.7" y1="323.76" x2="178.7" y2="323.76" stroke="#2a2ab0" stroke-width="1.6"/>
<circle cx="132.5" cy="323.76" r="4.75" stroke="#4848c0" stroke-width="0.8" fill="#ffffff"/>
<circle cx="132.5" cy="323.76" r="2.8" stroke="#2424a8" stroke-width="1.0" fill="#4a4ac0"/>
<circle cx="132.5" cy="323.76" r="1.3" stroke="none" stroke-width="0" fill="#7a68c0"/>
<circle cx="163.3" cy="323.76" r="4.75" stroke="#4848c0" stroke-width="0.8" fill="#ffffff"/>
<circle cx="163.3" cy="323.76" r="2.8" stroke="#2424a8" stroke-width="1.0" fill="#4a4ac0"/>
<circle cx="163.3" cy="323.76" r="1.3" stroke="none" stroke-width="0" fill="#7a68c0"/>
<path d="M139.10,323.16 L139.10,324.36 L145.30,329.36 L154.50,328.96 L154.50,318.86 L145.50,318.86 Z" stroke="#3030b0" stroke-width="0.9" fill="#fffdf6" stroke-linejoin="round"/>
<rect x="153.5" y="317.96" width="2" height="2" fill="#2020a8"/>
<rect x="153.5" y="327.26" width="2" height="2" fill="#2020a8"/>
<line x1="141.7" y1="323.76" x2="153.7" y2="323.76" stroke="#f2c898" stroke-width="0.6"/>
<line x1="147.7" y1="318.76" x2="147.7" y2="328.76" stroke="#f2c898" stroke-width="0.6"/>
<line x1="121.1" y1="323.76" x2="125.1" y2="323.76" stroke="#2a2ab0" stroke-width="1.5"/>
<path d="M170.8,323.76 L172.70000000000002,321.65999999999997 L174.60000000000002,323.76 L172.70000000000002,325.86 Z" fill="#2a2ab0"/>
<circle cx="188.9" cy="323.76" r="4.75" stroke="#4848c0" stroke-width="0.8" fill="#ffffff"/>
<circle cx="188.9" cy="323.76" r="2.8" stroke="#2424a8" stroke-width="1.0" fill="#4a4ac0"/>
<circle cx="188.9" cy="323.76" r="1.3" stroke="none" stroke-width="0" fill="#7a68c0"/>
<circle cx="219.70000000000002" cy="323.76" r="4.75" stroke="#4848c0" stroke-width="0.8" fill="#ffffff"/>
<circle cx="219.70000000000002" cy="323.76" r="2.8" stroke="#2424a8" stroke-width="1.0" fill="#4a4ac0"/>
<circle cx="219.70000000000002" cy="323.76" r="1.3" stroke="none" stroke-width="0" fill="#7a68c0"/>
<path d="M195.50,323.16 L195.50,324.36 L201.70,329.36 L210.90,328.96 L210.90,318.86 L201.90,318.86 Z" stroke="#3030b0" stroke-width="0.9" fill="#fffdf6" stroke-linejoin="round"/>
<rect x="209.9" y="317.96" width="2" height="2" fill="#2020a8"/>
<rect x="209.9" y="327.26" width="2" height="2" fill="#2020a8"/>
<line x1="198.1" y1="323.76" x2="210.1" y2="323.76" stroke="#f2c898" stroke-width="0.6"/>
<line x1="204.1" y1="318.76" x2="204.1" y2="328.76" stroke="#f2c898" stroke-width="0.6"/>
<line x1="177.5" y1="323.76" x2="181.5" y2="323.76" stroke="#2a2ab0" stroke-width="1.5"/>
<path d="M227.20000000000002,323.76 L229.10000000000002,321.65999999999997 L231.00000000000003,323.76 L229.10000000000002,325.86 Z" fill="#2a2ab0"/>
<line x1="111.39999999999999" y1="337.34999999999997" x2="127.9" y2="337.34999999999997" stroke="#3f8a78" stroke-width="1.0"/>
<line x1="117.3" y1="337.34999999999997" x2="122.3" y2="337.34999999999997" stroke="#2a2ab0" stroke-width="1.6"/>
<circle cx="76.0" cy="337.34999999999997" r="4.75" stroke="#4848c0" stroke-width="0.8" fill="#ffffff"/>
<circle cx="76.0" cy="337.34999999999997" r="2.8" stroke="#2424a8" stroke-width="1.0" fill="#4a4ac0"/>
<circle cx="76.0" cy="337.34999999999997" r="1.3" stroke="none" stroke-width="0" fill="#7a68c0"/>
<circle cx="106.8" cy="337.34999999999997" r="4.75" stroke="#4848c0" stroke-width="0.8" fill="#ffffff"/>
<circle cx="106.8" cy="337.34999999999997" r="2.8" stroke="#2424a8" stroke-width="1.0" fill="#4a4ac0"/>
<circle cx="106.8" cy="337.34999999999997" r="1.3" stroke="none" stroke-width="0" fill="#7a68c0"/>
<path d="M99.80,336.75 L99.80,337.95 L93.60,342.95 L84.40,342.55 L84.40,332.45 L93.40,332.45 Z" stroke="#3030b0" stroke-width="0.9" fill="#fffdf6" stroke-linejoin="round"/>
<rect x="83.4" y="331.54999999999995" width="2" height="2" fill="#2020a8"/>
<rect x="83.4" y="340.84999999999997" width="2" height="2" fill="#2020a8"/>
<line x1="85.2" y1="337.34999999999997" x2="97.2" y2="337.34999999999997" stroke="#f2c898" stroke-width="0.6"/>
<line x1="91.2" y1="332.34999999999997" x2="91.2" y2="342.34999999999997" stroke="#f2c898" stroke-width="0.6"/>
<path d="M64.69999999999999,337.34999999999997 L66.6,335.24999999999994 L68.5,337.34999999999997 L66.6,339.45 Z" fill="#2a2ab0"/>
<line x1="114.2" y1="337.34999999999997" x2="118.2" y2="337.34999999999997" stroke="#2a2ab0" stroke-width="1.5"/>
<line x1="167.9" y1="337.34999999999997" x2="184.3" y2="337.34999999999997" stroke="#3f8a78" stroke-width="1.0"/>
<line x1="173.7" y1="337.34999999999997" x2="178.7" y2="337.34999999999997" stroke="#2a2ab0" stroke-width="1.6"/>
<circle cx="132.5" cy="337.34999999999997" r="4.75" stroke="#4848c0" stroke-width="0.8" fill="#ffffff"/>
<circle cx="132.5" cy="337.34999999999997" r="2.8" stroke="#2424a8" stroke-width="1.0" fill="#4a4ac0"/>
<circle cx="132.5" cy="337.34999999999997" r="1.3" stroke="none" stroke-width="0" fill="#7a68c0"/>
<circle cx="163.3" cy="337.34999999999997" r="4.75" stroke="#4848c0" stroke-width="0.8" fill="#ffffff"/>
<circle cx="163.3" cy="337.34999999999997" r="2.8" stroke="#2424a8" stroke-width="1.0" fill="#4a4ac0"/>
<circle cx="163.3" cy="337.34999999999997" r="1.3" stroke="none" stroke-width="0" fill="#7a68c0"/>
<path d="M156.30,336.75 L156.30,337.95 L150.10,342.95 L140.90,342.55 L140.90,332.45 L149.90,332.45 Z" stroke="#3030b0" stroke-width="0.9" fill="#fffdf6" stroke-linejoin="round"/>
<rect x="139.89999999999998" y="331.54999999999995" width="2" height="2" fill="#2020a8"/>
<rect x="139.89999999999998" y="340.84999999999997" width="2" height="2" fill="#2020a8"/>
<line x1="141.7" y1="337.34999999999997" x2="153.7" y2="337.34999999999997" stroke="#f2c898" stroke-width="0.6"/>
<line x1="147.7" y1="332.34999999999997" x2="147.7" y2="342.34999999999997" stroke="#f2c898" stroke-width="0.6"/>
<path d="M121.19999999999999,337.34999999999997 L123.1,335.24999999999994 L125.0,337.34999999999997 L123.1,339.45 Z" fill="#2a2ab0"/>
<line x1="170.70000000000002" y1="337.34999999999997" x2="174.70000000000002" y2="337.34999999999997" stroke="#2a2ab0" stroke-width="1.5"/>
<circle cx="188.9" cy="337.34999999999997" r="4.75" stroke="#4848c0" stroke-width="0.8" fill="#ffffff"/>
<circle cx="188.9" cy="337.34999999999997" r="2.8" stroke="#2424a8" stroke-width="1.0" fill="#4a4ac0"/>
<circle cx="188.9" cy="337.34999999999997" r="1.3" stroke="none" stroke-width="0" fill="#7a68c0"/>
<circle cx="219.70000000000002" cy="337.34999999999997" r="4.75" stroke="#4848c0" stroke-width="0.8" fill="#ffffff"/>
<circle cx="219.70000000000002" cy="337.34999999999997" r="2.8" stroke="#2424a8" stroke-width="1.0" fill="#4a4ac0"/>
<circle cx="219.70000000000002" cy="337.34999999999997" r="1.3" stroke="none" stroke-width="0" fill="#7a68c0"/>
<path d="M212.70,336.75 L212.70,337.95 L206.50,342.95 L197.30,342.55 L197.30,332.45 L206.30,332.45 Z" stroke="#3030b0" stroke-width="0.9" fill="#fffdf6" stroke-linejoin="round"/>
<rect x="196.29999999999998" y="331.54999999999995" width="2" height="2" fill="#2020a8"/>
<rect x="196.29999999999998" y="340.84999999999997" width="2" height="2" fill="#2020a8"/>
<line x1="198.1" y1="337.34999999999997" x2="210.1" y2="337.34999999999997" stroke="#f2c898" stroke-width="0.6"/>
<line x1="204.1" y1="332.34999999999997" x2="204.1" y2="342.34999999999997" stroke="#f2c898" stroke-width="0.6"/>
<path d="M177.6,337.34999999999997 L179.5,335.24999999999994 L181.4,337.34999999999997 L179.5,339.45 Z" fill="#2a2ab0"/>
<line x1="227.10000000000002" y1="337.34999999999997" x2="231.10000000000002" y2="337.34999999999997" stroke="#2a2ab0" stroke-width="1.5"/>
<line x1="111.39999999999999" y1="350.93999999999994" x2="127.9" y2="350.93999999999994" stroke="#3f8a78" stroke-width="1.0"/>
<line x1="117.3" y1="350.93999999999994" x2="122.3" y2="350.93999999999994" stroke="#2a2ab0" stroke-width="1.6"/>
<circle cx="76.0" cy="350.93999999999994" r="4.75" stroke="#4848c0" stroke-width="0.8" fill="#ffffff"/>
<circle cx="76.0" cy="350.93999999999994" r="2.8" stroke="#2424a8" stroke-width="1.0" fill="#4a4ac0"/>
<circle cx="76.0" cy="350.93999999999994" r="1.3" stroke="none" stroke-width="0" fill="#7a68c0"/>
<circle cx="106.8" cy="350.93999999999994" r="4.75" stroke="#4848c0" stroke-width="0.8" fill="#ffffff"/>
<circle cx="106.8" cy="350.93999999999994" r="2.8" stroke="#2424a8" stroke-width="1.0" fill="#4a4ac0"/>
<circle cx="106.8" cy="350.93999999999994" r="1.3" stroke="none" stroke-width="0" fill="#7a68c0"/>
<path d="M82.60,350.34 L82.60,351.54 L88.80,356.54 L98.00,356.14 L98.00,346.04 L89.00,346.04 Z" stroke="#3030b0" stroke-width="0.9" fill="#fffdf6" stroke-linejoin="round"/>
<rect x="97.0" y="345.13999999999993" width="2" height="2" fill="#2020a8"/>
<rect x="97.0" y="354.43999999999994" width="2" height="2" fill="#2020a8"/>
<line x1="85.2" y1="350.93999999999994" x2="97.2" y2="350.93999999999994" stroke="#f2c898" stroke-width="0.6"/>
<line x1="91.2" y1="345.93999999999994" x2="91.2" y2="355.93999999999994" stroke="#f2c898" stroke-width="0.6"/>
<line x1="64.6" y1="350.93999999999994" x2="68.6" y2="350.93999999999994" stroke="#2a2ab0" stroke-width="1.5"/>
<path d="M114.3,350.93999999999994 L116.2,348.8399999999999 L118.10000000000001,350.93999999999994 L116.2,353.03999999999996 Z" fill="#2a2ab0"/>
<line x1="167.9" y1="350.93999999999994" x2="184.3" y2="350.93999999999994" stroke="#3f8a78" stroke-width="1.0"/>
<line x1="173.7" y1="350.93999999999994" x2="178.7" y2="350.93999999999994" stroke="#2a2ab0" stroke-width="1.6"/>
<circle cx="132.5" cy="350.93999999999994" r="4.75" stroke="#4848c0" stroke-width="0.8" fill="#ffffff"/>
<circle cx="132.5" cy="350.93999999999994" r="2.8" stroke="#2424a8" stroke-width="1.0" fill="#4a4ac0"/>
<circle cx="132.5" cy="350.93999999999994" r="1.3" stroke="none" stroke-width="0" fill="#7a68c0"/>
<circle cx="163.3" cy="350.93999999999994" r="4.75" stroke="#4848c0" stroke-width="0.8" fill="#ffffff"/>
<circle cx="163.3" cy="350.93999999999994" r="2.8" stroke="#2424a8" stroke-width="1.0" fill="#4a4ac0"/>
<circle cx="163.3" cy="350.93999999999994" r="1.3" stroke="none" stroke-width="0" fill="#7a68c0"/>
<path d="M139.10,350.34 L139.10,351.54 L145.30,356.54 L154.50,356.14 L154.50,346.04 L145.50,346.04 Z" stroke="#3030b0" stroke-width="0.9" fill="#fffdf6" stroke-linejoin="round"/>
<rect x="153.5" y="345.13999999999993" width="2" height="2" fill="#2020a8"/>
<rect x="153.5" y="354.43999999999994" width="2" height="2" fill="#2020a8"/>
<line x1="141.7" y1="350.93999999999994" x2="153.7" y2="350.93999999999994" stroke="#f2c898" stroke-width="0.6"/>
<line x1="147.7" y1="345.93999999999994" x2="147.7" y2="355.93999999999994" stroke="#f2c898" stroke-width="0.6"/>
<line x1="121.1" y1="350.93999999999994" x2="125.1" y2="350.93999999999994" stroke="#2a2ab0" stroke-width="1.5"/>
<path d="M170.8,350.93999999999994 L172.70000000000002,348.8399999999999 L174.60000000000002,350.93999999999994 L172.70000000000002,353.03999999999996 Z" fill="#2a2ab0"/>
<circle cx="188.9" cy="350.93999999999994" r="4.75" stroke="#4848c0" stroke-width="0.8" fill="#ffffff"/>
<circle cx="188.9" cy="350.93999999999994" r="2.8" stroke="#2424a8" stroke-width="1.0" fill="#4a4ac0"/>
<circle cx="188.9" cy="350.93999999999994" r="1.3" stroke="none" stroke-width="0" fill="#7a68c0"/>
<circle cx="219.70000000000002" cy="350.93999999999994" r="4.75" stroke="#4848c0" stroke-width="0.8" fill="#ffffff"/>
<circle cx="219.70000000000002" cy="350.93999999999994" r="2.8" stroke="#2424a8" stroke-width="1.0" fill="#4a4ac0"/>
<circle cx="219.70000000000002" cy="350.93999999999994" r="1.3" stroke="none" stroke-width="0" fill="#7a68c0"/>
<path d="M195.50,350.34 L195.50,351.54 L201.70,356.54 L210.90,356.14 L210.90,346.04 L201.90,346.04 Z" stroke="#3030b0" stroke-width="0.9" fill="#fffdf6" stroke-linejoin="round"/>
<rect x="209.9" y="345.13999999999993" width="2" height="2" fill="#2020a8"/>
<rect x="209.9" y="354.43999999999994" width="2" height="2" fill="#2020a8"/>
<line x1="198.1" y1="350.93999999999994" x2="210.1" y2="350.93999999999994" stroke="#f2c898" stroke-width="0.6"/>
<line x1="204.1" y1="345.93999999999994" x2="204.1" y2="355.93999999999994" stroke="#f2c898" stroke-width="0.6"/>
<line x1="177.5" y1="350.93999999999994" x2="181.5" y2="350.93999999999994" stroke="#2a2ab0" stroke-width="1.5"/>
<path d="M227.20000000000002,350.93999999999994 L229.10000000000002,348.8399999999999 L231.00000000000003,350.93999999999994 L229.10000000000002,353.03999999999996 Z" fill="#2a2ab0"/>
<line x1="111.39999999999999" y1="364.53" x2="127.9" y2="364.53" stroke="#3f8a78" stroke-width="1.0"/>
<line x1="117.3" y1="364.53" x2="122.3" y2="364.53" stroke="#2a2ab0" stroke-width="1.6"/>
<circle cx="76.0" cy="364.53" r="4.75" stroke="#4848c0" stroke-width="0.8" fill="#ffffff"/>
<circle cx="76.0" cy="364.53" r="2.8" stroke="#2424a8" stroke-width="1.0" fill="#4a4ac0"/>
<circle cx="76.0" cy="364.53" r="1.3" stroke="none" stroke-width="0" fill="#7a68c0"/>
<circle cx="106.8" cy="364.53" r="4.75" stroke="#4848c0" stroke-width="0.8" fill="#ffffff"/>
<circle cx="106.8" cy="364.53" r="2.8" stroke="#2424a8" stroke-width="1.0" fill="#4a4ac0"/>
<circle cx="106.8" cy="364.53" r="1.3" stroke="none" stroke-width="0" fill="#7a68c0"/>
<path d="M99.80,363.93 L99.80,365.13 L93.60,370.13 L84.40,369.73 L84.40,359.63 L93.40,359.63 Z" stroke="#3030b0" stroke-width="0.9" fill="#fffdf6" stroke-linejoin="round"/>
<rect x="83.4" y="358.72999999999996" width="2" height="2" fill="#2020a8"/>
<rect x="83.4" y="368.03" width="2" height="2" fill="#2020a8"/>
<line x1="85.2" y1="364.53" x2="97.2" y2="364.53" stroke="#f2c898" stroke-width="0.6"/>
<line x1="91.2" y1="359.53" x2="91.2" y2="369.53" stroke="#f2c898" stroke-width="0.6"/>
<path d="M64.69999999999999,364.53 L66.6,362.42999999999995 L68.5,364.53 L66.6,366.63 Z" fill="#2a2ab0"/>
<line x1="114.2" y1="364.53" x2="118.2" y2="364.53" stroke="#2a2ab0" stroke-width="1.5"/>
<line x1="167.9" y1="364.53" x2="184.3" y2="364.53" stroke="#3f8a78" stroke-width="1.0"/>
<line x1="173.7" y1="364.53" x2="178.7" y2="364.53" stroke="#2a2ab0" stroke-width="1.6"/>
<circle cx="132.5" cy="364.53" r="4.75" stroke="#4848c0" stroke-width="0.8" fill="#ffffff"/>
<circle cx="132.5" cy="364.53" r="2.8" stroke="#2424a8" stroke-width="1.0" fill="#4a4ac0"/>
<circle cx="132.5" cy="364.53" r="1.3" stroke="none" stroke-width="0" fill="#7a68c0"/>
<circle cx="163.3" cy="364.53" r="4.75" stroke="#4848c0" stroke-width="0.8" fill="#ffffff"/>
<circle cx="163.3" cy="364.53" r="2.8" stroke="#2424a8" stroke-width="1.0" fill="#4a4ac0"/>
<circle cx="163.3" cy="364.53" r="1.3" stroke="none" stroke-width="0" fill="#7a68c0"/>
<path d="M156.30,363.93 L156.30,365.13 L150.10,370.13 L140.90,369.73 L140.90,359.63 L149.90,359.63 Z" stroke="#3030b0" stroke-width="0.9" fill="#fffdf6" stroke-linejoin="round"/>
<rect x="139.89999999999998" y="358.72999999999996" width="2" height="2" fill="#2020a8"/>
<rect x="139.89999999999998" y="368.03" width="2" height="2" fill="#2020a8"/>
<line x1="141.7" y1="364.53" x2="153.7" y2="364.53" stroke="#f2c898" stroke-width="0.6"/>
<line x1="147.7" y1="359.53" x2="147.7" y2="369.53" stroke="#f2c898" stroke-width="0.6"/>
<path d="M121.19999999999999,364.53 L123.1,362.42999999999995 L125.0,364.53 L123.1,366.63 Z" fill="#2a2ab0"/>
<line x1="170.70000000000002" y1="364.53" x2="174.70000000000002" y2="364.53" stroke="#2a2ab0" stroke-width="1.5"/>
<circle cx="188.9" cy="364.53" r="4.75" stroke="#4848c0" stroke-width="0.8" fill="#ffffff"/>
<circle cx="188.9" cy="364.53" r="2.8" stroke="#2424a8" stroke-width="1.0" fill="#4a4ac0"/>
<circle cx="188.9" cy="364.53" r="1.3" stroke="none" stroke-width="0" fill="#7a68c0"/>
<circle cx="219.70000000000002" cy="364.53" r="4.75" stroke="#4848c0" stroke-width="0.8" fill="#ffffff"/>
<circle cx="219.70000000000002" cy="364.53" r="2.8" stroke="#2424a8" stroke-width="1.0" fill="#4a4ac0"/>
<circle cx="219.70000000000002" cy="364.53" r="1.3" stroke="none" stroke-width="0" fill="#7a68c0"/>
<path d="M212.70,363.93 L212.70,365.13 L206.50,370.13 L197.30,369.73 L197.30,359.63 L206.30,359.63 Z" stroke="#3030b0" stroke-width="0.9" fill="#fffdf6" stroke-linejoin="round"/>
<rect x="196.29999999999998" y="358.72999999999996" width="2" height="2" fill="#2020a8"/>
<rect x="196.29999999999998" y="368.03" width="2" height="2" fill="#2020a8"/>
<line x1="198.1" y1="364.53" x2="210.1" y2="364.53" stroke="#f2c898" stroke-width="0.6"/>
<line x1="204.1" y1="359.53" x2="204.1" y2="369.53" stroke="#f2c898" stroke-width="0.6"/>
<path d="M177.6,364.53 L179.5,362.42999999999995 L181.4,364.53 L179.5,366.63 Z" fill="#2a2ab0"/>
<line x1="227.10000000000002" y1="364.53" x2="231.10000000000002" y2="364.53" stroke="#2a2ab0" stroke-width="1.5"/>
<line x1="219.70000000000002" y1="274.2" x2="219.70000000000002" y2="278.18999999999994" stroke="#4a6aa0" stroke-width="1.5"/>
<line x1="76.0" y1="287.78999999999996" x2="76.0" y2="291.7799999999999" stroke="#4a6aa0" stroke-width="1.5"/>
<line x1="219.70000000000002" y1="301.38" x2="219.70000000000002" y2="305.36999999999995" stroke="#4a6aa0" stroke-width="1.5"/>
<line x1="76.0" y1="314.96999999999997" x2="76.0" y2="318.9599999999999" stroke="#4a6aa0" stroke-width="1.5"/>
<line x1="219.70000000000002" y1="328.56" x2="219.70000000000002" y2="332.54999999999995" stroke="#4a6aa0" stroke-width="1.5"/>
<line x1="76.0" y1="342.15" x2="76.0" y2="346.13999999999993" stroke="#4a6aa0" stroke-width="1.5"/>
<line x1="219.70000000000002" y1="355.73999999999995" x2="219.70000000000002" y2="359.7299999999999" stroke="#4a6aa0" stroke-width="1.5"/>
<circle cx="76.0" cy="269.4" r="7.4" stroke="#909090" stroke-width="0.6" fill="none"/>
<line x1="40.2" y1="241.4" x2="52.8" y2="241.4" stroke="#777" stroke-width="0.7" />
<line x1="52.8" y1="241.4" x2="70.8" y2="263.8" stroke="#777" stroke-width="0.7" />
<circle cx="76.0" cy="364.5" r="7.4" stroke="#909090" stroke-width="0.6" fill="none"/>
<line x1="40.2" y1="395.2" x2="52.9" y2="395.2" stroke="#777" stroke-width="0.7" />
<line x1="52.9" y1="395.2" x2="70.5" y2="370" stroke="#777" stroke-width="0.7" />
<line x1="328.7" y1="345.7" x2="420.7" y2="345.7" stroke="#a8a8a8" stroke-width="1.2" />
<line x1="328.7" y1="352.7" x2="420.7" y2="352.7" stroke="#a8a8a8" stroke-width="1.2" />
<line x1="328.7" y1="359.8" x2="420.7" y2="359.8" stroke="#a8a8a8" stroke-width="1.2" />
<line x1="328.7" y1="381.2" x2="420.7" y2="381.2" stroke="#a8a8a8" stroke-width="1.2" />
<line x1="328.7" y1="388.0" x2="420.7" y2="388.0" stroke="#a8a8a8" stroke-width="1.2" />
<line x1="328.7" y1="395.2" x2="420.7" y2="395.2" stroke="#a8a8a8" stroke-width="1.2" />
<line x1="328.7" y1="401.8" x2="420.7" y2="401.8" stroke="#a8a8a8" stroke-width="1.2" />
<line x1="328.7" y1="408.8" x2="420.7" y2="408.8" stroke="#a8a8a8" stroke-width="1.2" />
<line x1="328.7" y1="338.7" x2="591.6" y2="338.7" stroke="#4a4ab6" stroke-width="1.3" />
<line x1="328.7" y1="338.7" x2="328.7" y2="416.8" stroke="#4a4ab6" stroke-width="1.3" />
<line x1="328.7" y1="366.7" x2="420.7" y2="366.7" stroke="#4a4ab6" stroke-width="1.3" />
<line x1="328.7" y1="374.0" x2="420.7" y2="374.0" stroke="#4a4ab6" stroke-width="1.3" />
<line x1="338.5" y1="338.7" x2="338.5" y2="374.0" stroke="#4a4ab6" stroke-width="1.3" />
<line x1="352.5" y1="338.7" x2="352.5" y2="416.8" stroke="#4a4ab6" stroke-width="1.3" />
<line x1="385.1" y1="338.7" x2="385.1" y2="416.8" stroke="#4a4ab6" stroke-width="1.3" />
<line x1="406.5" y1="338.7" x2="406.5" y2="416.8" stroke="#4a4ab6" stroke-width="1.3" />
<line x1="420.7" y1="338.7" x2="420.7" y2="416.8" stroke="#4a4ab6" stroke-width="2.0" />
<line x1="420.7" y1="359.7" x2="591.6" y2="359.7" stroke="#4a4ab6" stroke-width="1.3" />
<line x1="420.7" y1="395.5" x2="591.6" y2="395.5" stroke="#4a4ab6" stroke-width="1.3" />
<line x1="520.5" y1="359.7" x2="520.5" y2="416.8" stroke="#4a4ab6" stroke-width="1.3" />
<line x1="520.5" y1="366.5" x2="591.6" y2="366.5" stroke="#4a4ab6" stroke-width="1.3" />
<line x1="520.5" y1="388.5" x2="591.6" y2="388.5" stroke="#4a4ab6" stroke-width="1.3" />
<line x1="541.7" y1="359.7" x2="541.7" y2="388.5" stroke="#4a4ab6" stroke-width="1.3" />
<line x1="566.4" y1="359.7" x2="566.4" y2="388.5" stroke="#4a4ab6" stroke-width="1.3" />
<line x1="549.5" y1="388.5" x2="549.5" y2="395.5" stroke="#4a4ab6" stroke-width="1.3" />
<line x1="527.5" y1="366.5" x2="527.5" y2="388.5" stroke="#a8a8a8" stroke-width="1.2" />
<line x1="535.0" y1="366.5" x2="535.0" y2="388.5" stroke="#a8a8a8" stroke-width="1.2" />
<filter id="gs" x="0" y="0" width="600" height="425" filterUnits="userSpaceOnUse"><feColorMatrix type="saturate" values="0"/></filter>
<g filter="url(#gs)">
<text x="0" y="0" font-size="100" font-style="italic" fill="#000" stroke="#fff" stroke-width="1.0" transform="translate(124.20 22.50) rotate(180) scale(0.0930 0.1352) translate(-3 70) skewX(-5)">НАКИ 563465.127 ГЧ</text>
<text x="0" y="0" font-size="100" font-style="italic" fill="#222" stroke="#222" stroke-width="2" transform="translate(13.70 65.80) rotate(-90) scale(0.0502 0.0569) translate(-3 69) skewX(-5)">Перв. примен.</text>
<text x="0" y="0" font-size="100" font-style="italic" fill="#222" stroke="#222" stroke-width="2" transform="translate(13.70 147.00) rotate(-90) scale(0.0527 0.0562) translate(-8 70) skewX(-5)">Справ. №</text>
<text x="0" y="0" font-size="100" font-style="italic" fill="#222" stroke="#222" stroke-width="2" transform="translate(13.70 250.80) rotate(-90) scale(0.0523 0.0562) translate(-3 72) skewX(-5)">Подп. и дата</text>
<text x="0" y="0" font-size="100" font-style="italic" fill="#222" stroke="#222" stroke-width="2" transform="translate(13.70 291.30) rotate(-90) scale(0.0493 0.0539) translate(-3 73) skewX(-5)">Инв. № дубл.</text>
<text x="0" y="0" font-size="100" font-style="italic" fill="#222" stroke="#222" stroke-width="2" transform="translate(13.70 329.40) rotate(-90) scale(0.0533 0.0586) translate(-3 69) skewX(-5)">Взам. инв. №</text>
<text x="0" y="0" font-size="100" font-style="italic" fill="#222" stroke="#222" stroke-width="2" transform="translate(13.70 373.00) rotate(-90) scale(0.0548 0.0562) translate(-3 72) skewX(-5)">Подп. и дата</text>
<text x="0" y="0" font-size="100" font-style="italic" fill="#222" stroke="#222" stroke-width="2" transform="translate(13.70 414.50) rotate(-90) scale(0.0520 0.0562) translate(-3 72) skewX(-5)">Инв. № подл.</text>
<text x="0" y="0" font-size="100" font-style="italic" fill="#181818" stroke="#fff" stroke-width="2.5" transform="translate(109.30 51.20) scale(0.0773 0.1056) translate(-4 70) skewX(-5)">340±3</text>
<text x="0" y="0" font-size="100" font-style="italic" fill="#181818" stroke="#fff" stroke-width="2.5" transform="translate(104.00 112.00) rotate(-90) scale(0.0841 0.1070) translate(0 70) skewX(-5)">25±1</text>
<text x="0" y="0" font-size="100" font-style="italic" fill="#181818" stroke="#fff" stroke-width="2.5" transform="translate(190.70 96.40) scale(0.0798 0.1028) translate(-3 70) skewX(-5)">ø30</text>
<text x="0" y="0" font-size="100" font-style="italic" fill="#181818" stroke="#fff" stroke-width="2.5" transform="translate(204.80 94.60) scale(0.0500 0.0681) translate(-9 69) skewX(-5)">+1</text>
<text x="0" y="0" font-size="100" font-style="italic" fill="#181818" stroke="#fff" stroke-width="2.5" transform="translate(190.70 110.30) scale(0.0744 0.1043) translate(-2 69) skewX(-5)">4 отв.</text>
<text x="0" y="0" font-size="100" font-style="italic" fill="#181818" stroke="#fff" stroke-width="2.5" transform="translate(113.10 180.00) scale(0.0852 0.1085) translate(-8 70) skewX(-5)">610</text>
<text x="0" y="0" font-size="100" font-style="italic" fill="#181818" stroke="#fff" stroke-width="2.5" transform="translate(273.00 40.80) scale(0.0893 0.1000) translate(-2 70) skewX(-5)">422</text>
<text x="0" y="0" font-size="100" font-style="italic" fill="#181818" stroke="#fff" stroke-width="2.5" transform="translate(272.70 57.90) scale(0.0802 0.1042) translate(0 70) skewX(-5)">256</text>
<text x="0" y="0" font-size="100" font-style="italic" fill="#181818" stroke="#fff" stroke-width="2.5" transform="translate(334.10 57.90) scale(0.0892 0.1042) translate(-12 70) skewX(-5)">70</text>
<text x="0" y="0" font-size="100" font-style="italic" fill="#181818" stroke="#fff" stroke-width="2.5" transform="translate(333.00 72.00) scale(0.0825 0.0887) translate(0 70) skewX(-5)">2 паза</text>
<text x="0" y="0" font-size="100" font-style="italic" fill="#181818" stroke="#fff" stroke-width="2.5" transform="translate(283.00 105.40) rotate(-90) scale(0.0873 0.1056) translate(-4 70) skewX(-5)">30</text>
<text x="0" y="0" font-size="100" font-style="italic" fill="#181818" stroke="#fff" stroke-width="2.5" transform="translate(325.40 133.00) rotate(-90) scale(0.0916 0.1141) translate(-4 70) skewX(-5)">590</text>
<text x="0" y="0" font-size="100" font-style="italic" fill="#181818" stroke="#fff" stroke-width="2.5" transform="translate(273.90 181.20) scale(0.0677 0.1058) translate(-2 69) skewX(-5)">414</text>
<text x="0" y="0" font-size="100" font-style="italic" fill="#000" stroke="#fff" stroke-width="1.5" transform="translate(455.50 19.50) scale(0.0955 0.1377) translate(5 69) skewX(-5)">A</text>
<text x="0" y="0" font-size="100" font-style="italic" fill="#181818" stroke="#fff" stroke-width="2.5" transform="translate(477.00 35.00) scale(0.0656 0.1096) translate(-3 70) skewX(-5)">ø19,5</text>
<text x="0" y="0" font-size="100" font-style="italic" fill="#181818" stroke="#fff" stroke-width="2.5" transform="translate(494.50 41.00) scale(0.0479 0.0479) translate(-7 70) skewX(-5)">-0,4</text>
<text x="0" y="0" font-size="100" font-style="italic" fill="#181818" stroke="#fff" stroke-width="2.5" transform="translate(416.40 79.80) rotate(-90) scale(0.0821 0.1093) translate(5 72) skewX(-5)">/1±0,019°</text>
<text x="0" y="0" font-size="100" font-style="italic" fill="#181818" stroke="#fff" stroke-width="2.5" transform="translate(520.30 65.00) rotate(-90) scale(0.0663 0.1100) translate(-3 69) skewX(-5)">1 max</text>
<text x="0" y="0" font-size="100" font-style="italic" fill="#181818" stroke="#fff" stroke-width="2.5" transform="translate(535.20 121.40) rotate(-90) scale(0.0701 0.1174) translate(-3 69) skewX(-5)">17</text>
<text x="0" y="0" font-size="100" font-style="italic" fill="#181818" stroke="#fff" stroke-width="2.5" transform="translate(532.70 112.60) rotate(-90) scale(0.0469 0.0565) translate(-9 69) skewX(-5)">+1</text>
<text x="0" y="0" font-size="100" font-style="italic" fill="#181818" stroke="#fff" stroke-width="2.5" transform="translate(557.00 118.60) rotate(-90) scale(0.0826 0.1211) translate(-4 70) skewX(-5)">568</text>
<text x="0" y="0" font-size="100" font-style="italic" fill="#181818" stroke="#fff" stroke-width="2.5" transform="translate(562.40 105.40) rotate(-90) scale(0.0647 0.0700) translate(-7 70) skewX(-5)">-2</text>
<text x="0" y="0" font-size="100" font-style="italic" fill="#000" stroke="#fff" stroke-width="1.5" transform="translate(501.00 152.00) scale(0.1094 0.1159) translate(-3 69) skewX(-5)">Б</text>
<text x="0" y="0" font-size="100" font-style="italic" fill="#181818" stroke="#fff" stroke-width="2.5" transform="translate(464.00 162.00) scale(0.0706 0.0959) translate(-3 70) skewX(-5)">ø17,9</text>
<text x="0" y="0" font-size="100" font-style="italic" fill="#181818" stroke="#fff" stroke-width="2.5" transform="translate(482.50 167.60) scale(0.0569 0.0466) translate(-7 70) skewX(-5)">-0,4</text>
<text x="0" y="0" font-size="100" font-style="italic" fill="#181818" stroke="#fff" stroke-width="2.5" transform="translate(545.60 176.90) scale(0.0691 0.0760) translate(-7 72) skewX(-5)">-/1±0,019</text>
<text x="0" y="0" font-size="100" font-style="italic" fill="#181818" stroke="#fff" stroke-width="2.5" transform="translate(440.00 180.40) rotate(-90) scale(0.0678 0.1057) translate(-3 69) skewX(-5)">1 max</text>
<text x="0" y="0" font-size="100" font-style="italic" fill="#181818" stroke="#fff" stroke-width="2.5" transform="translate(417.60 236.90) rotate(-90) scale(0.0726 0.1116) translate(-3 69) skewX(-5)">17</text>
<text x="0" y="0" font-size="100" font-style="italic" fill="#181818" stroke="#fff" stroke-width="2.5" transform="translate(414.00 227.80) rotate(-90) scale(0.0480 0.0667) translate(-9 69) skewX(-5)">+1</text>
<text x="0" y="0" font-size="100" font-style="italic" fill="#181818" stroke="#fff" stroke-width="2.5" transform="translate(396.00 242.90) rotate(-90) scale(0.0820 0.1155) translate(-4 70) skewX(-5)">568</text>
<text x="0" y="0" font-size="100" font-style="italic" fill="#181818" stroke="#fff" stroke-width="2.5" transform="translate(401.80 230.60) rotate(-90) scale(0.0671 0.0643) translate(-7 70) skewX(-5)">-2</text>
<text x="0" y="0" font-size="100" font-style="italic" fill="#000" stroke="#fff" stroke-width="1.2" transform="translate(127.50 224.30) scale(0.1027 0.1427) translate(-3 72) skewX(-5)">B (1:5)</text>
<text x="0" y="0" font-size="100" font-style="italic" fill="#181818" stroke="#fff" stroke-width="2.5" transform="translate(43.10 230.20) scale(0.0812 0.1101) translate(-3 69) skewX(-5)">Б</text>
<text x="0" y="0" font-size="100" font-style="italic" fill="#181818" stroke="#fff" stroke-width="2.5" transform="translate(43.00 384.10) scale(0.0788 0.1087) translate(5 69) skewX(-5)">A</text>
<text x="0" y="0" font-size="100" font-style="italic" fill="#111" stroke="#fff" stroke-width="0.5" transform="translate(329.20 301.00) scale(0.0732 0.0921) translate(-3 73) skewX(-5)">1. Масса батареи без электролита   кг max.</text>
<text x="0" y="0" font-size="100" font-style="italic" fill="#111" stroke="#fff" stroke-width="0.5" transform="translate(329.20 310.60) scale(0.0741 0.0868) translate(0 73) skewX(-5)">2. Масса батареи с электролитом   кг max.</text>
<text x="0" y="0" font-size="100" font-style="italic" fill="#111" stroke="#fff" stroke-width="0.5" transform="translate(329.20 320.80) scale(0.0733 0.0857) translate(-4 74) skewX(-5)">3. *Размер, обеспечиваемый инструментом.</text>
<text x="0" y="0" font-size="100" font-style="italic" fill="#101010" stroke="#101010" stroke-width="2" transform="translate(329.50 369.00) scale(0.0402 0.0543) translate(-3 69) skewX(-5)">Изм.</text>
<text x="0" y="0" font-size="100" font-style="italic" fill="#101010" stroke="#101010" stroke-width="2" transform="translate(340.00 369.00) scale(0.0402 0.0543) translate(5 69) skewX(-5)">Лист</text>
<text x="0" y="0" font-size="100" font-style="italic" fill="#101010" stroke="#101010" stroke-width="2" transform="translate(358.00 369.00) scale(0.0518 0.0507) translate(-4 72) skewX(-5)">№ докум.</text>
<text x="0" y="0" font-size="100" font-style="italic" fill="#101010" stroke="#101010" stroke-width="2" transform="translate(390.40 369.00) scale(0.0462 0.0521) translate(-3 72) skewX(-5)">Подп.</text>
<text x="0" y="0" font-size="100" font-style="italic" fill="#101010" stroke="#101010" stroke-width="2" transform="translate(408.00 369.00) scale(0.0396 0.0528) translate(6 69) skewX(-5)">Дата</text>
<text x="0" y="0" font-size="100" font-style="italic" fill="#101010" stroke="#101010" stroke-width="2" transform="translate(329.50 375.50) scale(0.0519 0.0592) translate(-3 73) skewX(-5)">Разраб.</text>
<text x="0" y="0" font-size="100" font-style="italic" fill="#101010" stroke="#101010" stroke-width="2" transform="translate(353.50 375.20) scale(0.0549 0.0640) translate(-9 72) skewX(-5)">Фёдоров</text>
<text x="0" y="0" font-size="100" font-style="italic" fill="#101010" stroke="#101010" stroke-width="2" transform="translate(329.50 382.40) scale(0.0502 0.0611) translate(-3 69) skewX(-5)">Пров.</text>
<text x="0" y="0" font-size="100" font-style="italic" fill="#101010" stroke="#101010" stroke-width="2" transform="translate(354.50 382.40) scale(0.0542 0.0629) translate(-15 69) skewX(-5)">Топилин</text>
<text x="0" y="0" font-size="100" font-style="italic" fill="#101010" stroke="#101010" stroke-width="2" transform="translate(329.50 389.50) scale(0.0523 0.0625) translate(-15 69) skewX(-5)">Т.контр.</text>
<text x="0" y="0" font-size="100" font-style="italic" fill="#101010" stroke="#101010" stroke-width="2" transform="translate(354.50 389.50) scale(0.0500 0.0643) translate(-3 69) skewX(-5)">Козин</text>
<text x="0" y="0" font-size="100" font-style="italic" fill="#101010" stroke="#101010" stroke-width="2" transform="translate(329.50 403.50) scale(0.0467 0.0625) translate(-3 69) skewX(-5)">Н.контр.</text>
<text x="0" y="0" font-size="100" font-style="italic" fill="#101010" stroke="#101010" stroke-width="2" transform="translate(329.50 410.40) scale(0.0488 0.0629) translate(-1 69) skewX(-5)">Утв.</text>
<text x="0" y="0" font-size="100" font-style="italic" fill="#101010" stroke="#101010" stroke-width="2" transform="translate(354.00 410.40) scale(0.0553 0.0629) translate(-3 69) skewX(-5)">Енжеев</text>
<text x="0" y="0" font-size="100" font-style="italic" font-weight="bold" fill="#000" stroke="#000" stroke-width="4" transform="translate(407.60 375.60) scale(0.0418 0.0563) translate(-6 70) skewX(-5)">08.08</text>
<text x="0" y="0" font-size="100" font-style="italic" fill="#000" stroke="#fff" stroke-width="0.3" transform="translate(455.70 343.80) scale(0.1029 0.1394) translate(-3 70) skewX(-5)">НАКИ 563465.127 ГЧ</text>
<text x="0" y="0" font-size="100" font-style="italic" fill="#101010" stroke="#fff" stroke-width="0" transform="translate(438.30 364.90) scale(0.0515 0.0597) translate(-3 69) skewX(-5)">Батарея аккумуляторная</text>
<text x="0" y="0" font-size="100" font-style="italic" fill="#101010" stroke="#fff" stroke-width="0" transform="translate(445.90 372.50) scale(0.0528 0.0649) translate(-5 54) skewX(-5)">свинцовая тяговая</text>
<text x="0" y="0" font-size="100" font-style="italic" fill="#101010" stroke="#fff" stroke-width="0" transform="translate(456.40 378.60) scale(0.0481 0.0704) translate(0 70) skewX(-5)">24x2PzS200</text>
<text x="0" y="0" font-size="100" font-style="italic" fill="#101010" stroke="#fff" stroke-width="0" transform="translate(445.90 385.40) scale(0.0503 0.0675) translate(-3 74) skewX(-5)">Габаритный чертеж</text>
<text x="0" y="0" font-size="100" font-style="italic" fill="#101010" stroke="#fff" stroke-width="0" transform="translate(526.80 361.20) scale(0.0441 0.0629) translate(5 69) skewX(-5)">Лит.</text>
<text x="0" y="0" font-size="100" font-style="italic" fill="#101010" stroke="#fff" stroke-width="0" transform="translate(546.40 361.20) scale(0.0512 0.0629) translate(-3 69) skewX(-5)">Масса</text>
<text x="0" y="0" font-size="100" font-style="italic" fill="#101010" stroke="#fff" stroke-width="0" transform="translate(567.90 361.20) scale(0.0476 0.0595) translate(-3 73) skewX(-5)">Масштаб</text>
<text x="0" y="0" font-size="100" font-style="italic" fill="#000" stroke="#000" stroke-width="2" transform="translate(543.40 376.20) scale(0.0500 0.0842) translate(-5 54) skewX(-5)">см. прим.</text>
<text x="0" y="0" font-size="100" font-style="italic" fill="#222" stroke="#fff" stroke-width="0.5" transform="translate(572.80 373.40) scale(0.0626 0.1183) translate(-3 70) skewX(-5)">1:10</text>
<text x="0" y="0" font-size="100" font-style="italic" fill="#101010" stroke="#fff" stroke-width="0" transform="translate(523.50 390.00) scale(0.0517 0.0514) translate(5 69) skewX(-5)">Лист</text>
<text x="0" y="0" font-size="100" font-style="italic" fill="#101010" stroke="#fff" stroke-width="0" transform="translate(553.60 390.00) scale(0.0519 0.0514) translate(5 69) skewX(-5)">Листов</text>
<text x="0" y="0" font-size="100" font-style="italic" fill="#101010" stroke="#fff" stroke-width="0" transform="translate(582.40 390.00) scale(0.0444 0.0522) translate(-3 69) skewX(-5)">1</text>
<text x="0" y="0" font-size="100" font-style="italic" fill="#000" stroke="#fff" stroke-width="1.0" transform="translate(524.50 400.50) scale(0.1089 0.1408) translate(0 70) skewX(-5)">24x2PzS200</text>
<text x="0" y="0" font-size="100" font-style="italic" fill="#101010" stroke="#fff" stroke-width="0" transform="translate(436.30 417.60) scale(0.0517 0.0667) translate(-3 69) skewX(-5)">Копировал</text>
<text x="0" y="0" font-size="100" font-style="italic" fill="#101010" stroke="#fff" stroke-width="0" transform="translate(536.30 417.60) scale(0.0504 0.0667) translate(-9 69) skewX(-5)">Формат</text>
<text x="0" y="0" font-size="100" font-style="italic" fill="#101010" stroke="#fff" stroke-width="0" transform="translate(564.20 417.60) scale(0.0542 0.0676) translate(5 70) skewX(-5)">A3</text>
</g>
</svg>
</body></html>
